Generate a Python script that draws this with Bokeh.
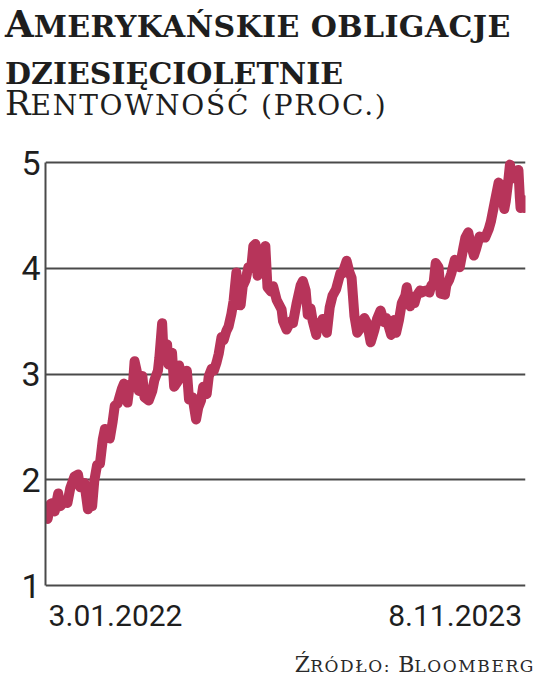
import pandas as pd
from bokeh.plotting import figure
from bokeh.layouts import column
from bokeh.models import Label, Range1d, FixedTicker, Div
from bokeh.embed import file_html
from bokeh.resources import INLINE

# ---- data (10Y US Treasury yield, %) ----
dates = [
    "2022-01-03", "2022-01-05", "2022-01-07", "2022-01-10", "2022-01-13", "2022-01-18",
    "2022-01-21", "2022-01-25", "2022-01-27", "2022-01-31", "2022-02-04", "2022-02-10",
    "2022-02-15", "2022-02-18", "2022-02-22", "2022-02-24", "2022-03-01", "2022-03-03",
    "2022-03-07", "2022-03-10", "2022-03-14", "2022-03-18", "2022-03-22", "2022-03-25",
    "2022-03-28", "2022-04-01", "2022-04-05", "2022-04-08", "2022-04-12", "2022-04-18",
    "2022-04-21", "2022-04-26", "2022-04-29", "2022-05-04", "2022-05-06", "2022-05-09",
    "2022-05-12", "2022-05-17", "2022-05-20", "2022-05-26", "2022-05-31", "2022-06-03",
    "2022-06-08", "2022-06-10", "2022-06-14", "2022-06-16", "2022-06-21", "2022-06-23",
    "2022-06-28", "2022-07-01", "2022-07-06", "2022-07-08", "2022-07-12", "2022-07-14",
    "2022-07-19", "2022-07-22", "2022-07-27", "2022-08-01", "2022-08-04", "2022-08-08",
    "2022-08-11", "2022-08-16", "2022-08-19", "2022-08-23", "2022-08-26", "2022-08-30",
    "2022-09-02", "2022-09-06", "2022-09-09", "2022-09-13", "2022-09-16", "2022-09-20",
    "2022-09-23", "2022-09-27", "2022-09-28", "2022-10-03", "2022-10-06", "2022-10-10",
    "2022-10-14", "2022-10-18", "2022-10-21", "2022-10-24", "2022-10-27", "2022-11-01",
    "2022-11-04", "2022-11-07", "2022-11-10", "2022-11-15", "2022-11-18", "2022-11-23",
    "2022-11-30", "2022-12-02", "2022-12-07", "2022-12-13", "2022-12-16", "2022-12-21",
    "2022-12-27", "2022-12-30",
    "2023-01-03", "2023-01-06", "2023-01-10", "2023-01-13", "2023-01-18", "2023-01-20",
    "2023-01-25", "2023-01-27", "2023-02-02", "2023-02-06", "2023-02-10", "2023-02-15",
    "2023-02-21", "2023-02-24", "2023-03-02", "2023-03-06", "2023-03-09", "2023-03-13",
    "2023-03-17", "2023-03-22", "2023-03-27", "2023-03-31", "2023-04-05", "2023-04-10",
    "2023-04-14", "2023-04-19", "2023-04-24", "2023-04-27", "2023-05-04", "2023-05-08",
    "2023-05-11", "2023-05-15", "2023-05-19", "2023-05-24", "2023-05-26", "2023-05-31",
    "2023-06-02", "2023-06-06", "2023-06-09", "2023-06-14", "2023-06-16", "2023-06-22",
    "2023-06-27", "2023-06-30", "2023-07-03", "2023-07-06", "2023-07-10", "2023-07-13",
    "2023-07-19", "2023-07-21", "2023-07-25", "2023-07-28", "2023-08-02", "2023-08-04",
    "2023-08-09", "2023-08-14", "2023-08-17", "2023-08-21", "2023-08-24", "2023-08-29",
    "2023-09-01", "2023-09-06", "2023-09-11", "2023-09-14", "2023-09-19", "2023-09-22",
    "2023-09-27", "2023-10-03", "2023-10-06", "2023-10-11", "2023-10-13", "2023-10-17",
    "2023-10-19", "2023-10-23", "2023-10-26", "2023-10-31", "2023-11-02", "2023-11-03",
    "2023-11-06", "2023-11-08",
]
yields = [
    1.63, 1.70, 1.77, 1.78, 1.70, 1.87,
    1.75, 1.78, 1.80, 1.78, 1.92, 2.03,
    2.05, 1.93, 1.94, 1.97, 1.72, 1.86,
    1.75, 1.99, 2.14, 2.15, 2.38, 2.48,
    2.46, 2.39, 2.55, 2.70, 2.72, 2.86,
    2.91, 2.73, 2.89, 2.93, 3.12, 3.03,
    2.84, 2.98, 2.78, 2.75, 2.84, 2.94,
    3.03, 3.15, 3.48, 3.19, 3.28, 3.09,
    3.20, 2.88, 2.93, 3.08, 2.96, 2.96,
    3.03, 2.76, 2.78, 2.57, 2.68, 2.75,
    2.88, 2.81, 2.98, 3.05, 3.03, 3.11,
    3.19, 3.35, 3.32, 3.41, 3.45, 3.57,
    3.69, 3.96, 3.73, 3.65, 3.83, 3.89,
    4.01, 4.00, 4.21, 4.23, 3.93, 4.05,
    4.16, 4.21, 3.82, 3.78, 3.83, 3.70,
    3.61, 3.50, 3.42, 3.50, 3.48, 3.66,
    3.84, 3.88,
    3.79, 3.56, 3.62, 3.50, 3.37, 3.48,
    3.45, 3.52, 3.39, 3.63, 3.74, 3.80,
    3.95, 3.95, 4.07, 3.96, 3.91, 3.55,
    3.39, 3.44, 3.53, 3.48, 3.30, 3.41,
    3.52, 3.60, 3.49, 3.53, 3.37, 3.51,
    3.39, 3.51, 3.67, 3.74, 3.82, 3.64,
    3.69, 3.67, 3.74, 3.79, 3.77, 3.79,
    3.77, 3.84, 3.86, 4.05, 4.01, 3.76,
    3.75, 3.84, 3.89, 3.95, 4.08, 4.04,
    4.01, 4.19, 4.29, 4.34, 4.24, 4.12,
    4.18, 4.30, 4.29, 4.29, 4.37, 4.44,
    4.61, 4.81, 4.78, 4.56, 4.63, 4.85,
    4.98, 4.85, 4.85, 4.93, 4.67, 4.57,
    4.65, 4.57,
]
y_ticks = [1, 2, 3, 4, 5]
x_labels = ["3.01.2022", "8.11.2023"]
title_line1 = ("A", "MERYKAŃSKIE OBLIGACJE")
title_line2 = "DZIESIĘCIOLETNIE"
subtitle = ("R", "ENTOWNOŚĆ (PROC.)")
source = ("Ź", "RÓDŁO: ", "B", "LOOMBERG")

x = pd.to_datetime(dates)

LINE_COLOR = "#B7345A"
GRID_COLOR = "#4a4a4a"
TEXT_COLOR = "#1e1e1e"
SERIF = "'DejaVu Serif', serif"
NUM_FONT = "Roboto"

W = 536
TITLE_H = 140
FIG_H = 500
SOURCE_H = 40

# ---- title block ----
title_html = f"""
<div style="position:relative;width:{W}px;height:{TITLE_H}px;color:{TEXT_COLOR};font-family:{SERIF};">
 <div style="position:absolute;left:5px;top:6px;white-space:nowrap;font-weight:bold;font-size:37px;line-height:37px;">{title_line1[0]}<span style="font-size:30px;letter-spacing:0.4px;">{title_line1[1]}</span></div>
 <div style="position:absolute;left:5px;top:62px;white-space:nowrap;font-weight:bold;font-size:30px;line-height:24px;">{title_line2}</div>
 <div style="position:absolute;left:5px;top:89px;white-space:nowrap;font-weight:normal;font-size:34px;line-height:28px;">{subtitle[0]}<span style="font-size:28px;letter-spacing:1.8px;">{subtitle[1]}</span></div>
</div>
"""
title_div = Div(text=title_html, width=W, height=TITLE_H, margin=0)

# ---- chart ----
PX = 105.75  # pixels per 1 percentage point
p = figure(
    width=W, height=FIG_H,
    x_axis_type="datetime", x_axis_location=None,
    x_range=Range1d(pd.Timestamp("2021-12-31"), pd.Timestamp("2023-11-10")),
    y_range=Range1d(1 - 55 / PX, 5 + 5 / PX),
    output_backend="svg", toolbar_location=None,
    min_border_left=45, min_border_right=11, min_border_top=17, min_border_bottom=0,
    margin=0,
)
p.outline_line_color = None
p.background_fill_color = "white"
p.border_fill_color = "white"

p.line(x, yields, line_color=LINE_COLOR, line_width=10, line_join="round", line_cap="round")

ya = p.yaxis[0]
ya.ticker = FixedTicker(ticks=y_ticks)
ya.bounds = (1, 5)
ya.axis_line_color = GRID_COLOR
ya.axis_line_width = 2
ya.major_tick_line_color = None
ya.minor_tick_line_color = None
ya.major_tick_out = 0
ya.major_tick_in = 0
ya.minor_tick_out = 0
ya.major_label_text_font = NUM_FONT
ya.major_label_text_font_size = "34px"
ya.major_label_text_color = TEXT_COLOR
ya.major_label_standoff = 5

p.xgrid.visible = False
p.ygrid.ticker = FixedTicker(ticks=y_ticks)
p.ygrid.grid_line_color = GRID_COLOR
p.ygrid.grid_line_width = 2

label_y = 1 - 30 / PX  # just below the baseline (y = 1)
p.add_layout(Label(x=x[0], y=label_y, x_offset=1, text=x_labels[0],
                   text_font=NUM_FONT, text_font_size="30px", text_color=TEXT_COLOR,
                   text_align="left", text_baseline="alphabetic"))
p.add_layout(Label(x=x[-1], y=label_y, x_offset=-2, text=x_labels[1],
                   text_font=NUM_FONT, text_font_size="30px", text_color=TEXT_COLOR,
                   text_align="right", text_baseline="alphabetic"))

# ---- source ----
source_html = f"""
<div style="position:relative;width:{W}px;height:{SOURCE_H}px;color:#2a2a2a;font-family:{SERIF};">
 <div style="position:absolute;right:1px;top:14px;white-space:nowrap;font-size:22px;line-height:22px;">{source[0]}<span style="font-size:17px;letter-spacing:1.6px;">{source[1]}</span>{source[2]}<span style="font-size:17px;letter-spacing:1.6px;">{source[3]}</span></div>
</div>
"""
source_div = Div(text=source_html, width=W, height=SOURCE_H, margin=0)

layout = column(title_div, p, source_div, spacing=0)
open("out.html", "w").write(file_html(layout, INLINE))
